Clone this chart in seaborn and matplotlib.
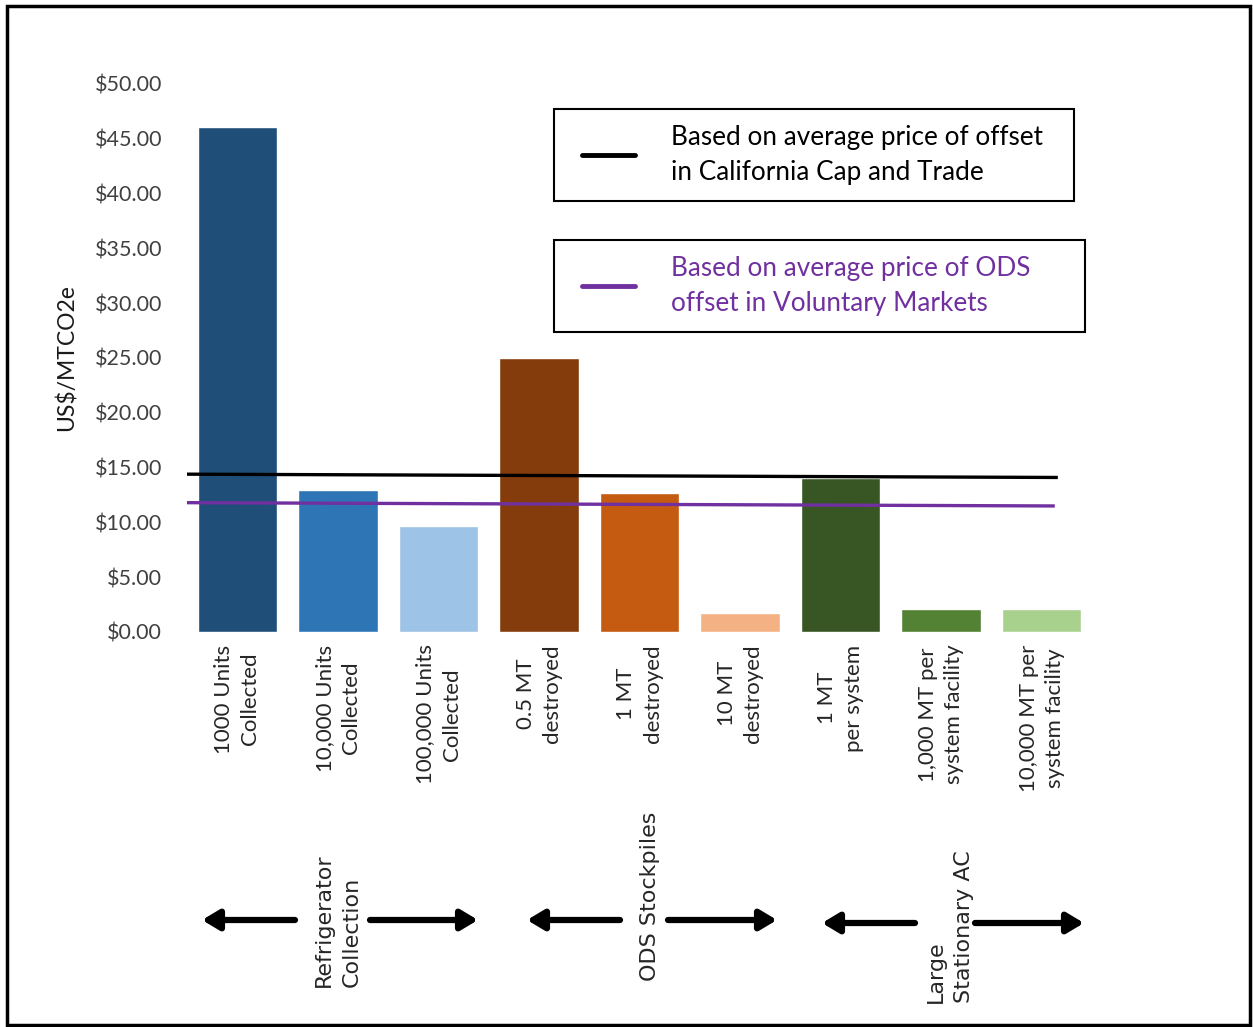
import matplotlib
matplotlib.use("Agg")
import matplotlib.pyplot as plt
import seaborn as sns
import pandas as pd
from matplotlib.patches import Rectangle, FancyArrowPatch
from matplotlib.lines import Line2D

# ---- data ----
categories = ["1000 Units\nCollected", "10,000 Units\nCollected", "100,000 Units\nCollected",
              "0.5 MT\ndestroyed", "1 MT\ndestroyed", "10 MT\ndestroyed",
              "1 MT\nper system", "1,000 MT per\nsystem facility", "10,000 MT per\nsystem facility"]
values = [46.1, 13.0, 9.7, 25.0, 12.7, 1.75, 14.05, 2.1, 2.1]
bar_colors = ["#1f4e79", "#2e75b6", "#9dc3e6", "#843c0c", "#c55a11", "#f4b183",
              "#375623", "#548235", "#a9d18e"]
cap_trade_line = [14.4, 14.1]      # left end, right end
voluntary_line = [11.8, 11.5]
yticks = [0, 5, 10, 15, 20, 25, 30, 35, 40, 45, 50]
legend_texts = ["Based on average price of offset\nin California Cap and Trade",
                "Based on average price of ODS\noffset in Voluntary Markets"]
group_labels = ["Refrigerator\nCollection", "ODS Stockpiles", "Large\nStationary AC"]

W, H = 1253, 1027
sns.set_style("white")
plt.rcParams['font.family'] = ['Lato', 'DejaVu Sans']

fig = plt.figure(figsize=(W / 100, H / 100), dpi=100)
ax = fig.add_axes([187 / W, 1 - 632 / H, (1092 - 187) / W, (632 - 84) / H])

df = pd.DataFrame({"cat": categories, "val": values})
sns.barplot(data=df, x="cat", y="val", hue="cat", palette=bar_colors, legend=False,
            width=0.79, ax=ax, saturation=1)

ax.set_xlim(-0.5, 8.5)
ax.set_ylim(0, 50)
ax.set_yticks(yticks)
ax.set_yticklabels([f"${v:.2f}" for v in yticks], fontsize=15.5, color="#404040")
ax.set_xticks(range(len(categories)))
ax.set_xticklabels(categories, rotation=90, fontsize=16, color="#262626",
                   va="top", ha="center", multialignment="center", linespacing=1.4)
ax.tick_params(axis="y", length=0, pad=18)
ax.tick_params(axis="x", length=0, pad=9)
ax.set_xlabel("")
ax.set_ylabel("US$/MTCO2e", fontsize=16.5, color="#1a1a1a", labelpad=12)
for s in ax.spines.values():
    s.set_visible(False)

# reference lines
ax.plot([-0.5, 8.16], cap_trade_line, color="black", lw=2.4, solid_capstyle="butt")
ax.plot([-0.5, 8.13], voluntary_line, color="#7030a0", lw=2.4, solid_capstyle="butt")

def fx(x):
    return x / W

def fy(y):
    return 1 - y / H

# legend boxes
boxes = [(554, 109, 1074, 201, "black", "black"),
         (554, 240, 1085, 332, "#7030a0", "#7030a0")]
for (x0, y0, x1, y1, lc, tc), txt in zip(boxes, legend_texts):
    fig.patches.append(Rectangle((fx(x0), fy(y1)), fx(x1 - x0), (y1 - y0) / H,
                                 transform=fig.transFigure, fill=False,
                                 edgecolor="black", lw=1.5))
    ym = (y0 + y1) / 2
    fig.lines.append(Line2D([fx(582), fx(635)], [fy(ym), fy(ym)], color=lc, lw=3.5,
                            transform=fig.transFigure))
    fig.text(fx(671), fy(ym), txt, fontsize=18.8, color=tc, va="center", ha="left",
             linespacing=1.5)

# group labels
fig.text(fx(338), fy(920), group_labels[0], rotation=90, fontsize=16, ha="center",
         va="center", multialignment="left", family="DejaVu Sans", linespacing=1.5)
fig.text(fx(650), fy(896), group_labels[1], rotation=90, fontsize=16, ha="center",
         va="center", family="DejaVu Sans")
fig.text(fx(950), fy(927), group_labels[2], rotation=90, fontsize=16, ha="center",
         va="center", multialignment="left", family="DejaVu Sans", linespacing=1.5)

arrows = [((295, 920), (202, 920)), ((370, 920), (478, 920)),
          ((620, 920), (527, 920)), ((668, 920), (777, 920)),
          ((915, 923), (822, 923)), ((975, 923), (1084, 923))]
for (tx, ty), (hx, hy) in arrows:
    fig.add_artist(FancyArrowPatch(
        (fx(tx), fy(ty)), (fx(hx), fy(hy)), transform=fig.transFigure,
        arrowstyle="-|>,head_length=10,head_width=6", mutation_scale=1.0,
        lw=4.5, color="black", shrinkA=0, shrinkB=0))

# outer border
fig.patches.append(Rectangle((fx(7), fy(1025)), fx(1250 - 7), (1025 - 6) / H,
                             transform=fig.transFigure, fill=False,
                             edgecolor="black", lw=2.5))

fig.savefig("out.png", dpi=100)
